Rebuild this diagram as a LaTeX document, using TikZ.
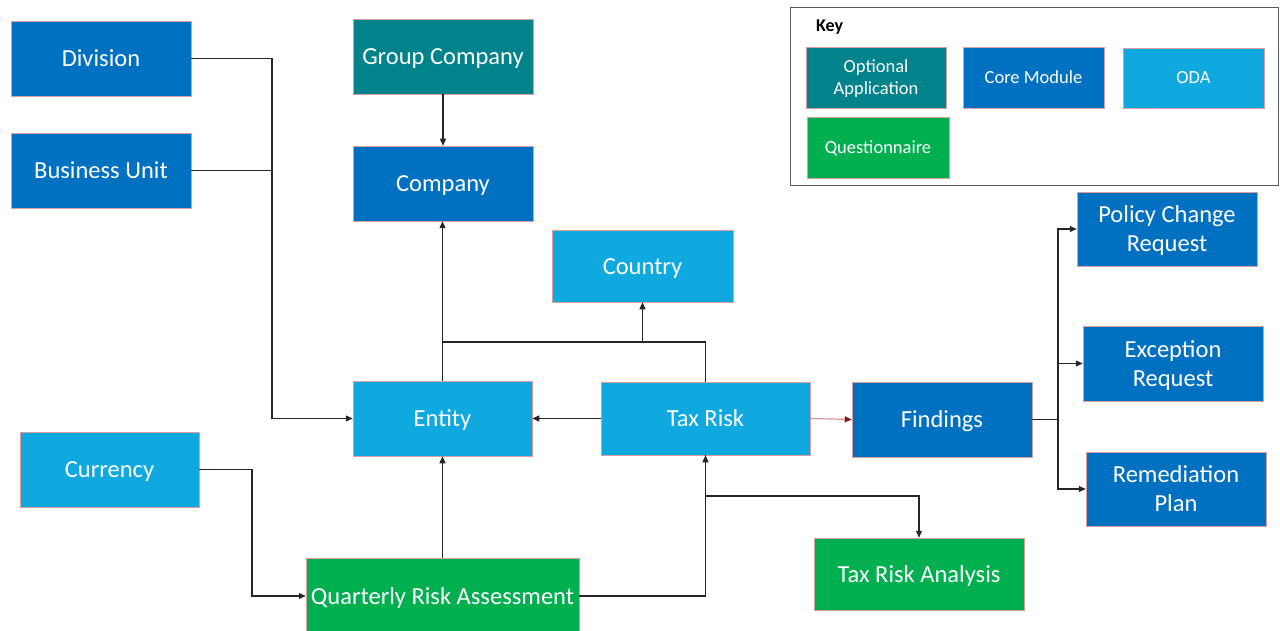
\documentclass[tikz,border=0pt]{standalone}
\usepackage{fontspec}
\setmainfont{Carlito}
\usetikzlibrary{arrows.meta}
\definecolor{coreblue}{HTML}{0070C0}
\definecolor{odablue}{HTML}{0FA9E0}
\definecolor{optteal}{HTML}{00838A}
\definecolor{qgreen}{HTML}{00B050}
\definecolor{edgered}{HTML}{C0504D}
\definecolor{linegray}{HTML}{262626}
\definecolor{keygray}{HTML}{595959}
\definecolor{tipred}{HTML}{8B1A1A}
\newcommand\lnstrut{\rule[-6pt]{0pt}{28pt}}
\newcommand\keystrut{\rule[-4.5pt]{0pt}{21pt}}
\tikzset{
  boxbase/.style={draw=edgered!55, line width=0.5pt, text=white, align=center, inner sep=0pt, font=\fontsize{24.5}{29}\selectfont},
  core/.style={boxbase, fill=coreblue},
  oda/.style={boxbase, fill=odablue},
  opt/.style={boxbase, fill=optteal},
  quest/.style={boxbase, fill=qgreen},
  keytxt/.style={font=\fontsize{18.5}{22}\selectfont},
  conn/.style={draw=linegray, line width=1.2pt},
  arr/.style={conn, -{Triangle[length=7pt,width=6pt]}},
  redarr/.style={draw=edgered!60, line width=1.2pt, -{Triangle[length=7pt,width=6pt,color=tipred]}},
}
\begin{document}
\begin{tikzpicture}[x=1pt,y=-1pt]
\useasboundingbox (0,0) rectangle (1280,631);
\fill[white] (0,0) rectangle (1280,631);
% key
\node[draw=keygray, line width=1pt, minimum width=488pt, minimum height=178pt, inner sep=0pt] (keybox) at (1034,97) {};
\node[font=\bfseries\fontsize{18}{22}\selectfont, anchor=west, inner sep=0pt] (keylbl) at (816,27.5) {Key};
\node[opt, keytxt, minimum width=140pt, minimum height=61pt] (kopt) at (876,77.5) {\keystrut Optional\\\keystrut Application};
\node[core, keytxt, minimum width=141pt, minimum height=61pt] (kcore) at (1033.5,77.5) {\keystrut Core Module};
\node[oda, keytxt, minimum width=141pt, minimum height=60pt] (koda) at (1193.5,78) {\keystrut ODA};
\node[quest, keytxt, minimum width=142pt, minimum height=61pt] (kq) at (878,147.5) {\keystrut Questionnaire};
% main nodes
\node[core, minimum width=180pt, minimum height=75pt] (div) at (101,58.5) {\lnstrut Division};
\node[core, minimum width=180pt, minimum height=75pt] (bu) at (101,170.5) {\lnstrut Business Unit};
\node[opt, minimum width=180pt, minimum height=75pt] (gc) at (443,56.5) {\lnstrut Group Company};
\node[core, minimum width=180pt, minimum height=75pt] (comp) at (443,183.5) {\lnstrut Company};
\node[oda, minimum width=181pt, minimum height=72pt] (ctry) at (642.5,266) {\lnstrut Country};
\node[oda, minimum width=179pt, minimum height=75pt] (ent) at (442.5,418.5) {\lnstrut Entity};
\node[oda, minimum width=209pt, minimum height=73pt] (tr) at (705.5,418.5) {\lnstrut Tax Risk};
\node[core, minimum width=180pt, minimum height=75pt] (find) at (942,419.5) {\lnstrut Findings};
\node[oda, minimum width=179pt, minimum height=75pt] (cur) at (109.5,469.5) {\lnstrut Currency};
\node[quest, minimum width=273pt, minimum height=76pt] (qra) at (442.5,596) {\lnstrut Quarterly Risk Assessment};
\node[quest, minimum width=210pt, minimum height=72pt] (tra) at (919,574) {\lnstrut Tax Risk Analysis};
\node[core, minimum width=180pt, minimum height=74pt] (pcr) at (1167,229) {\lnstrut Policy Change\\\lnstrut Request};
\node[core, minimum width=180pt, minimum height=75pt] (er) at (1173,363.5) {\lnstrut Exception\\\lnstrut Request};
\node[core, minimum width=180pt, minimum height=74pt] (rp) at (1176,489) {\lnstrut Remediation\\\lnstrut Plan};
% junction coordinates
\coordinate (jx) at (272,0);
\coordinate (jtop) at (0,342);
\coordinate (jf) at (1058,0);
\coordinate (jcur) at (252,0);
\coordinate (jtra) at (0,496);
% connectors
\draw[conn] (div.east) -- (div.east -| jx);
\draw[arr] (bu.east) -- (bu.east -| jx) |- (ent.west);
\draw[conn] (div.east -| jx) -- (bu.east -| jx);
\draw[arr] (gc.south) -- (comp.north);
\draw[arr] (ent.north) -- (ent.north |- comp.south);
\draw[arr] (ent.north) |- (ctry.south |- jtop) -- (ctry.south);
\draw[conn] (tr.north) |- (ctry.south |- jtop);
\draw[arr] (tr.west) -- (ent.east);
\draw[redarr] (tr.east) -- (find.west);
\draw[conn] (find.east) -- (find.east -| jf);
\draw[arr] (find.east -| jf) |- (pcr.west);
\draw[arr] (find.east -| jf) |- (er.west);
\draw[arr] (find.east -| jf) |- (rp.west);
\draw[arr] (cur.east) -- (cur.east -| jcur) |- (qra.west);
\draw[arr] (qra.north) -- (ent.south);
\draw[arr] (qra.east) -| (tr.south);
\draw[arr] (tr.south) -- (tr.south |- jtra) -| (tra.north);
\end{tikzpicture}
\end{document}
